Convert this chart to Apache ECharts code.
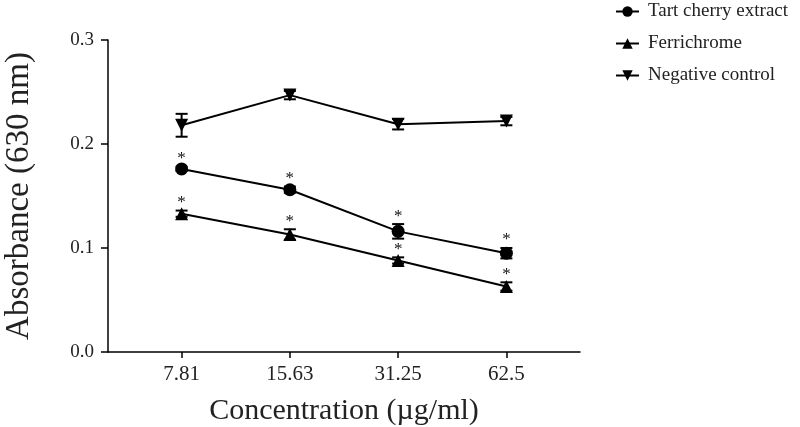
<!DOCTYPE html>
<html>
<head>
<meta charset="utf-8">
<script src="https://cdn.jsdelivr.net/npm/echarts@6/dist/echarts.min.js"></script>
<style>html,body{margin:0;padding:0;background:#fff;}#c{width:800px;height:427px;}</style>
</head>
<body>
<div id="c"></div>
<script>
var categories = ['7.81', '15.63', '31.25', '62.5'];
var tartValues = [0.176, 0.156, 0.116, 0.095];
var tartErr = [0.002, 0.003, 0.007, 0.005];
var ferriValues = [0.133, 0.113, 0.088, 0.063];
var ferriErr = [0.003, 0.005, 0.003, 0.004];
var negValues = [0.218, 0.247, 0.219, 0.222];
var negErr = [0.011, 0.004, 0.005, 0.004];
var tartSig = [true, true, true, true];
var ferriSig = [true, true, true, true];
var yTicks = [0, 0.1, 0.2, 0.3];

var FONT = 'Liberation Serif';
var xPos = categories.map(function (c, i) { return i + 1; });

function pts(vals) { return vals.map(function (v, i) { return [xPos[i], v]; }); }
function errData(vals, errs, sig) {
  return vals.map(function (v, i) { return [xPos[i], v, errs[i], sig ? (sig[i] ? 1 : 0) : 0]; });
}
function errRender(params, api) {
  var x = api.value(0), y = api.value(1), e = api.value(2), s = api.value(3);
  var top = api.coord([x, y + e]);
  var bot = api.coord([x, y - e]);
  var hw = 6;
  var children = [
    { type: 'line', shape: { x1: top[0], y1: top[1], x2: bot[0], y2: bot[1] }, style: { stroke: '#000', lineWidth: 2 } },
    { type: 'line', shape: { x1: top[0] - hw, y1: top[1], x2: top[0] + hw, y2: top[1] }, style: { stroke: '#000', lineWidth: 2 } },
    { type: 'line', shape: { x1: bot[0] - hw, y1: bot[1], x2: bot[0] + hw, y2: bot[1] }, style: { stroke: '#000', lineWidth: 2 } }
  ];
  if (s) {
    children.push({ type: 'text', x: top[0], y: top[1] - 8, style: { text: '*', fill: '#111', font: '17px ' + FONT, align: 'center', verticalAlign: 'middle' } });
  }
  return { type: 'group', children: children };
}

function lineSeries(name, vals, symbol, rotate) {
  return {
    name: name, type: 'line', data: pts(vals), symbol: symbol, symbolSize: 13,
    symbolRotate: rotate || 0, z: 3,
    lineStyle: { color: '#000', width: 2 }, itemStyle: { color: '#000' }, animation: false
  };
}
function errSeries(vals, errs, sig) {
  return { type: 'custom', data: errData(vals, errs, sig), renderItem: errRender, z: 4, animation: false, silent: true };
}

var chart = echarts.init(document.getElementById('c'));
chart.setOption({
  animation: false,
  grid: { left: 108, right: 220, top: 40, bottom: 75, containLabel: false, outerBoundsMode: 'none' },
  legend: {
    orient: 'vertical', left: 610, top: -3, itemGap: 13, itemWidth: 23, itemHeight: 13,
    textStyle: { fontFamily: FONT, fontSize: 19, color: '#222', padding: [0, 0, 0, 4] },
    data: ['Tart cherry extract', 'Ferrichrome', 'Negative control']
  },
  xAxis: {
    type: 'value', min: 0.32, max: 4.68,
    name: 'Concentration (\u00b5g/ml)', nameLocation: 'middle', nameGap: 44,
    nameTextStyle: { fontFamily: FONT, fontSize: 30, color: '#222' },
    axisLine: { show: true, lineStyle: { color: '#000', width: 1.5 } },
    axisTick: { show: true, customValues: xPos, length: 6, inside: false, lineStyle: { color: '#000', width: 1.5 } },
    axisLabel: { customValues: xPos, fontFamily: FONT, fontSize: 21, color: '#222', margin: 12,
      formatter: function (v) { var i = Math.round(v) - 1; return categories[i] !== undefined ? categories[i] : ''; } },
    splitLine: { show: false }
  },
  yAxis: {
    type: 'value', min: 0, max: 0.3, interval: 0.1,
    name: 'Absorbance (630 nm)', nameLocation: 'middle', nameGap: 72,
    nameTextStyle: { fontFamily: FONT, fontSize: 33, color: '#222' },
    axisLine: { show: true, lineStyle: { color: '#000', width: 1.5 } },
    axisTick: { show: true, length: 7, lineStyle: { color: '#000', width: 1.5 } },
    axisLabel: { fontFamily: FONT, fontSize: 19, color: '#222', margin: 14,
      formatter: function (v) { return v.toFixed(1); } },
    splitLine: { show: false }
  },
  series: [
    lineSeries('Tart cherry extract', tartValues, 'circle'),
    lineSeries('Ferrichrome', ferriValues, 'triangle'),
    lineSeries('Negative control', negValues, 'triangle', 180),
    errSeries(tartValues, tartErr, tartSig),
    errSeries(ferriValues, ferriErr, ferriSig),
    errSeries(negValues, negErr, null)
  ]
});
</script>
</body>
</html>
